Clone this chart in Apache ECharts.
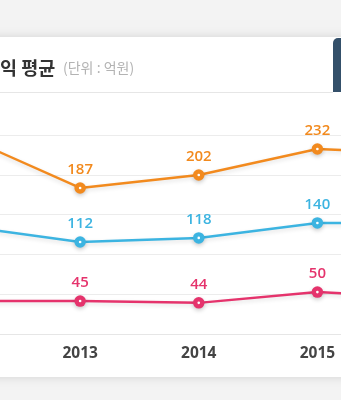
<!DOCTYPE html>
<html>
<head>
<meta charset="utf-8">
<script src="https://cdn.jsdelivr.net/npm/echarts@6/dist/echarts.min.js"></script>
<style>
html,body{margin:0;padding:0;background:#f3f3f3;}
#c{width:341px;height:400px;}
</style>
</head>
<body>
<div id="c"></div>
<script>
var categories = ['2012', '2013', '2014', '2015', '2016'];
var orangeValues = [248, 187, 202, 232, 226];
var blueValues = [136, 112, 118, 140, 140];
var pinkValues = [45, 45, 44, 50, 47];
var titleText = '익 평균';
var unitText = '(단위 : 억원)';

var chart = echarts.init(document.getElementById('c'), null, {renderer: 'canvas'});

function lineSeries(data, color, axisIndex) {
  return {
    type: 'line',
    data: data,
    yAxisIndex: axisIndex,
    clip: false,
    symbol: 'circle',
    symbolSize: 11.5,
    lineStyle: {color: color, width: 2.5, shadowBlur: 4, shadowColor: 'rgba(0,0,0,0.12)', shadowOffsetY: 2},
    itemStyle: {color: color, shadowBlur: 4, shadowColor: 'rgba(0,0,0,0.2)', shadowOffsetY: 2},
    label: {
      show: true, position: 'top', distance: 5,
      color: color, fontSize: 15, fontWeight: 600,
      fontFamily: 'Open Sans'
    },
    emphasis: {disabled: true},
    z: 3
  };
}
function dotSeries(data, axisIndex) {
  return {
    type: 'line',
    data: data,
    yAxisIndex: axisIndex,
    clip: false,
    symbol: 'circle',
    symbolSize: 2.6,
    lineStyle: {opacity: 0},
    itemStyle: {color: '#ffffff'},
    label: {show: false},
    emphasis: {disabled: true},
    silent: true,
    z: 4
  };
}

var option = {
  backgroundColor: '#f3f3f3',
  animation: false,
  graphic: [
    {type: 'rect', shape: {x: -20, y: 37, width: 380, height: 340}, style: {fill: '#ffffff', shadowBlur: 10, shadowColor: 'rgba(0,0,0,0.13)'}, z: -10},
    {type: 'line', shape: {x1: 0, y1: 92.5, x2: 333, y2: 92.5}, style: {stroke: '#e6e6e6', lineWidth: 1}, z: -9},
    {type: 'rect', shape: {x: 333, y: 38, width: 20, height: 54, r: [5, 0, 0, 0]}, style: {fill: '#34506a'}, z: -8},
    {type: 'text', x: 0, y: 68, style: {text: titleText, font: 'bold 18.5px "Noto Sans CJK KR"', fill: '#333333', verticalAlign: 'middle'}},
    {type: 'text', x: 63, y: 68, style: {text: unitText, font: '14px "Noto Sans CJK KR"', fill: '#b3b3b3', verticalAlign: 'middle'}}
  ],
  grid: {left: -38.5, right: -95, top: 135, bottom: 66, containLabel: false, outerBoundsMode: 'none'},
  xAxis: {
    type: 'category',
    data: categories,
    boundaryGap: false,
    axisLine: {show: true, lineStyle: {color: '#e6e6e6'}},
    axisTick: {show: false},
    axisLabel: {color: '#444444', fontSize: 15.5, fontWeight: 'bold', fontFamily: 'Open Sans', margin: 12}
  },
  yAxis: [
    {type: 'value', min: 0, max: 5, interval: 1, axisLabel: {show: false}, axisLine: {show: false}, axisTick: {show: false}, splitLine: {lineStyle: {color: '#ececec'}}},
    {type: 'value', show: false, min: 18.6, max: 248.1, splitLine: {show: false}},
    {type: 'value', show: false, min: -23.3, max: 269.3, splitLine: {show: false}},
    {type: 'value', show: false, min: 26.7, max: 137.3, splitLine: {show: false}}
  ],
  series: [
    lineSeries(orangeValues, '#f28a1e', 1),
    lineSeries(blueValues, '#3cb4e1', 2),
    lineSeries(pinkValues, '#e5336c', 3),
    dotSeries(orangeValues, 1),
    dotSeries(blueValues, 2),
    dotSeries(pinkValues, 3)
  ]
};
chart.setOption(option);
</script>
</body>
</html>
